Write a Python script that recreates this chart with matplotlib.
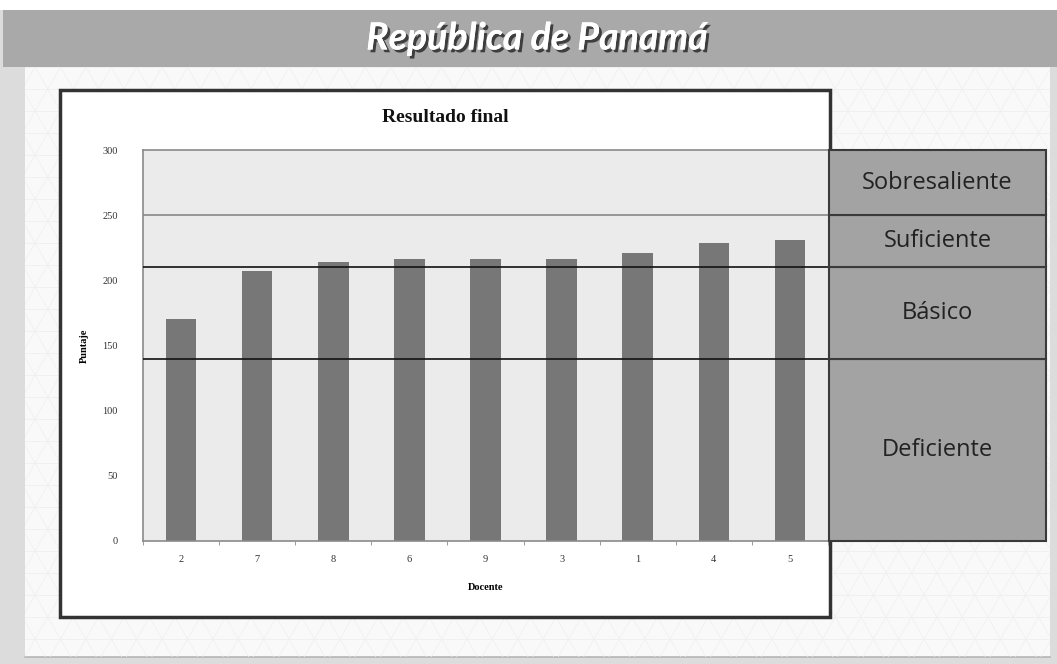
import numpy as np
import matplotlib
matplotlib.use("Agg")
import matplotlib.pyplot as plt
from matplotlib.patches import Rectangle
import matplotlib.patheffects as pe

# Scores per teacher (Docente), in the order shown
docentes = ["2", "7", "8", "6", "9", "3", "1", "4", "5"]
puntajes = [170, 207, 214, 216, 216, 216, 221, 229, 231]

# Performance bands
limites = [0, 140, 210, 250, 300]
niveles = ["Deficiente", "Básico", "Suficiente", "Sobresaliente"]
y_ticks = [0, 50, 100, 150, 200, 250, 300]

W, H = 1057, 664
fig = plt.figure(figsize=(W / 100, H / 100), dpi=100)
fig.patch.set_facecolor("white")


def fx(px):
    return px / W


def fy(py):
    return 1 - py / H


# Page background layer (pixel coordinates, y downwards)
bg = fig.add_axes([0, 0, 1, 1], zorder=0)
bg.set_xlim(0, W)
bg.set_ylim(H, 0)
bg.axis("off")
bg.add_patch(Rectangle((0, 0), W, H, color="#dcdcdc", lw=0))
bg.add_patch(Rectangle((0, 0), W, 10, color="white", lw=0))
bg.add_patch(Rectangle((3, 10), W - 3, 57, color="#a9a9a9", lw=0))
panel = Rectangle((25, 67), 1025, 590, facecolor="#f9f9f9", edgecolor="none")
bg.add_patch(panel)
bg.plot([25, 1050], [657, 657], color="#b5b5b5", lw=1.2)

# faint triangular grid on the panel
step = 22
for yy in np.arange(67, 660, step):
    ln, = bg.plot([25, 1050], [yy, yy], color="#ededed", lw=0.5)
    ln.set_clip_path(panel)
dx = step / np.tan(np.radians(60))
for x0 in np.arange(-600, 1700, 2 * dx):
    l1, = bg.plot([x0, x0 + 600 * dx / step], [67, 667], color="#efefef", lw=0.5)
    l2, = bg.plot([x0, x0 - 600 * dx / step], [67, 667], color="#efefef", lw=0.5)
    l1.set_clip_path(panel)
    l2.set_clip_path(panel)

# white chart frame
bg.add_patch(Rectangle((60, 90), 770, 527, facecolor="white",
                       edgecolor="#333333", lw=2.5, zorder=3))

# banner title
bg.text(537, 38, "República de Panamá", ha="center", va="center",
        fontsize=27, fontweight="bold", style="italic", color="white",
        family=["Liberation Sans Narrow", "Lato", "DejaVu Sans"], zorder=5,
        path_effects=[pe.withSimplePatchShadow(offset=(2, -2), shadow_rgbFace="#333333", alpha=0.9),
                      pe.Normal()])

# chart title
bg.text(445, 117, "Resultado final", ha="center", va="center",
        fontsize=14, fontweight="bold", color="#111111",
        family=["Liberation Serif", "DejaVu Serif"], zorder=5)

# main bar chart
ax = fig.add_axes([fx(143), fy(541), fx(828 - 143), fy(150) - fy(541)], zorder=2)
ax.set_facecolor("#ebebeb")
x = np.arange(len(docentes))
ax.bar(x, puntajes, width=0.4, color="#777777", zorder=2)
ax.set_xlim(-0.5, len(docentes) - 0.5)
ax.set_ylim(limites[0], limites[-1])
for v in limites[1:-1]:
    c = "#888888" if v == limites[-2] else "#111111"
    ax.axhline(v, color=c, lw=1.2, zorder=3)

for s in ["left", "bottom", "top"]:
    ax.spines[s].set_color("#8a8a8a")
    ax.spines[s].set_linewidth(1.2)
ax.spines["right"].set_visible(False)

serif = ["Liberation Serif", "DejaVu Serif"]
ax.set_yticks(y_ticks)
ax.set_yticklabels([str(t) for t in y_ticks], family=serif, fontsize=7.5, color="#333333")
ax.tick_params(axis="y", length=0, pad=18)
ax.set_xticks(x)
ax.set_xticklabels(docentes, family=serif, fontsize=7.5, color="#333333")
ax.tick_params(axis="x", length=0, pad=10)
ax.set_xticks(np.arange(-0.5, len(docentes)), minor=True)
ax.tick_params(axis="x", which="minor", length=3, color="#8a8a8a", direction="out")

ax.set_ylabel("Puntaje", family=serif, fontsize=7.5, fontweight="bold", labelpad=10)
ax.set_xlabel("Docente", family=serif, fontsize=7.5, fontweight="bold", labelpad=14)

# performance band boxes
ax2 = fig.add_axes([fx(829), fy(541), fx(1046 - 829), fy(150) - fy(541)], zorder=2)
ax2.set_xlim(0, 1)
ax2.set_ylim(limites[0], limites[-1])
ax2.axis("off")
for lo, hi, name in zip(limites[:-1], limites[1:], niveles):
    ax2.add_patch(Rectangle((0, lo), 1, hi - lo, facecolor="#a3a3a3",
                            edgecolor="#3a3a3a", lw=1.5, clip_on=False))
    ax2.text(0.5, (lo + hi) / 2, name, ha="center", va="center", fontsize=17,
             color="#222222", family=["Open Sans", "DejaVu Sans"])

fig.savefig("out.png", dpi=100)
